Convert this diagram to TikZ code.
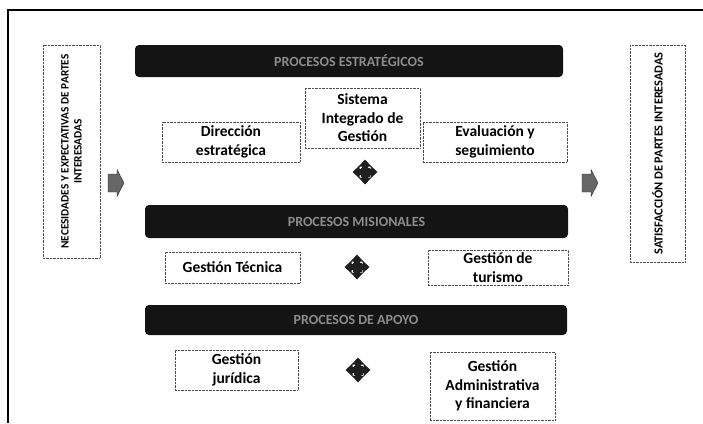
\documentclass[tikz,border=0pt]{standalone}
\usepackage{fontspec}
\setmainfont{Carlito}
\tikzset{
  procbox/.style={draw=black!70, densely dotted, thin, fill=white, align=center, font=\fontsize{15.5}{18.5}\selectfont\bfseries, inner sep=1pt},
  sidebox/.style={draw=black!70, densely dotted, thin, fill=white, align=center, rotate=90, font=\fontsize{11.3}{13}\selectfont\bfseries, inner sep=1pt},
  procbar/.style={fill=black!92, rounded corners=4pt, text=black!45, font=\fontsize{14}{16}\selectfont\bfseries},
  crossarrow/.pic={
    \foreach \r in {0,90,180,270}
      \fill[black!88, rotate=\r] (-3,0) -- (-3,5.5) -- (-6.5,5.5) -- (0,12.5) -- (6.5,5.5) -- (3,5.5) -- (3,0) -- cycle;
    \fill[black!88] (-4.5,-4.5) rectangle (4.5,4.5);
  },
  blockarrow/.pic={
    \filldraw[fill=black!60, draw=black!85, thin] (-8,-9) -- (1,-9) -- (1,-13.5) -- (8,0) -- (1,13.5) -- (1,9) -- (-8,9) -- cycle;
  }
}
\begin{document}
\begin{tikzpicture}[x=1pt, y=-1pt] % pixel-like units, y downwards
    \useasboundingbox (0,0) rectangle (703,423);
    % Draw frame
    \draw[line width=1.1pt] (8,423) -- (8,10) -- (703,10);
    % Draw process bars
    \node[procbar, minimum width=428, minimum height=32] (estr) at (349,61) {PROCESOS ESTRATÉGICOS};
    \node[procbar, minimum width=423, minimum height=33] (mis) at (356.5,221.5) {PROCESOS MISIONALES};
    \node[procbar, minimum width=422, minimum height=30] (apoyo) at (356,320) {PROCESOS DE APOYO};
    % Draw strategic processes
    \node[procbox, minimum width=138, minimum height=40] (dir) at (231,142) {Dirección\\estratégica};
    \node[procbox, minimum width=115, minimum height=60] (sig) at (362.5,118) {Sistema\\Integrado de\\Gestión};
    \node[procbox, minimum width=144, minimum height=40] (eva) at (495,142) {Evaluación y\\seguimiento};
    \pic at (365,172) {crossarrow};
    % Draw mission processes
    \node[procbox, minimum width=135, minimum height=31] (tec) at (232.5,267.5) {Gestión Técnica};
    \node[procbox, minimum width=140, minimum height=35] (tur) at (498,267.5) {Gestión de\\turismo};
    \pic at (357,267) {crossarrow};
    % Draw support processes
    \node[procbox, minimum width=123, minimum height=40] (jur) at (236.5,370) {Gestión\\jurídica};
    \node[procbox, minimum width=125, minimum height=68] (adm) at (492.5,386) {Gestión\\Administrativa\\y financiera};
    \pic at (358,370) {crossarrow};
    % Draw input and output
    \node[sidebox, minimum width=213, minimum height=57] (nec) at (71.5,151.5) {NECESIDADES Y EXPECTATIVAS DE PARTES\\INTERESADAS};
    \node[sidebox, minimum width=217, minimum height=55, font=\fontsize{12.3}{14}\selectfont\bfseries] (sat) at (657.5,153.5) {SATISFACCIÓN DE PARTES INTERESADAS};
    \pic at (116,183) {blockarrow};
    \pic at (590,183) {blockarrow};
\end{tikzpicture}
\end{document}
